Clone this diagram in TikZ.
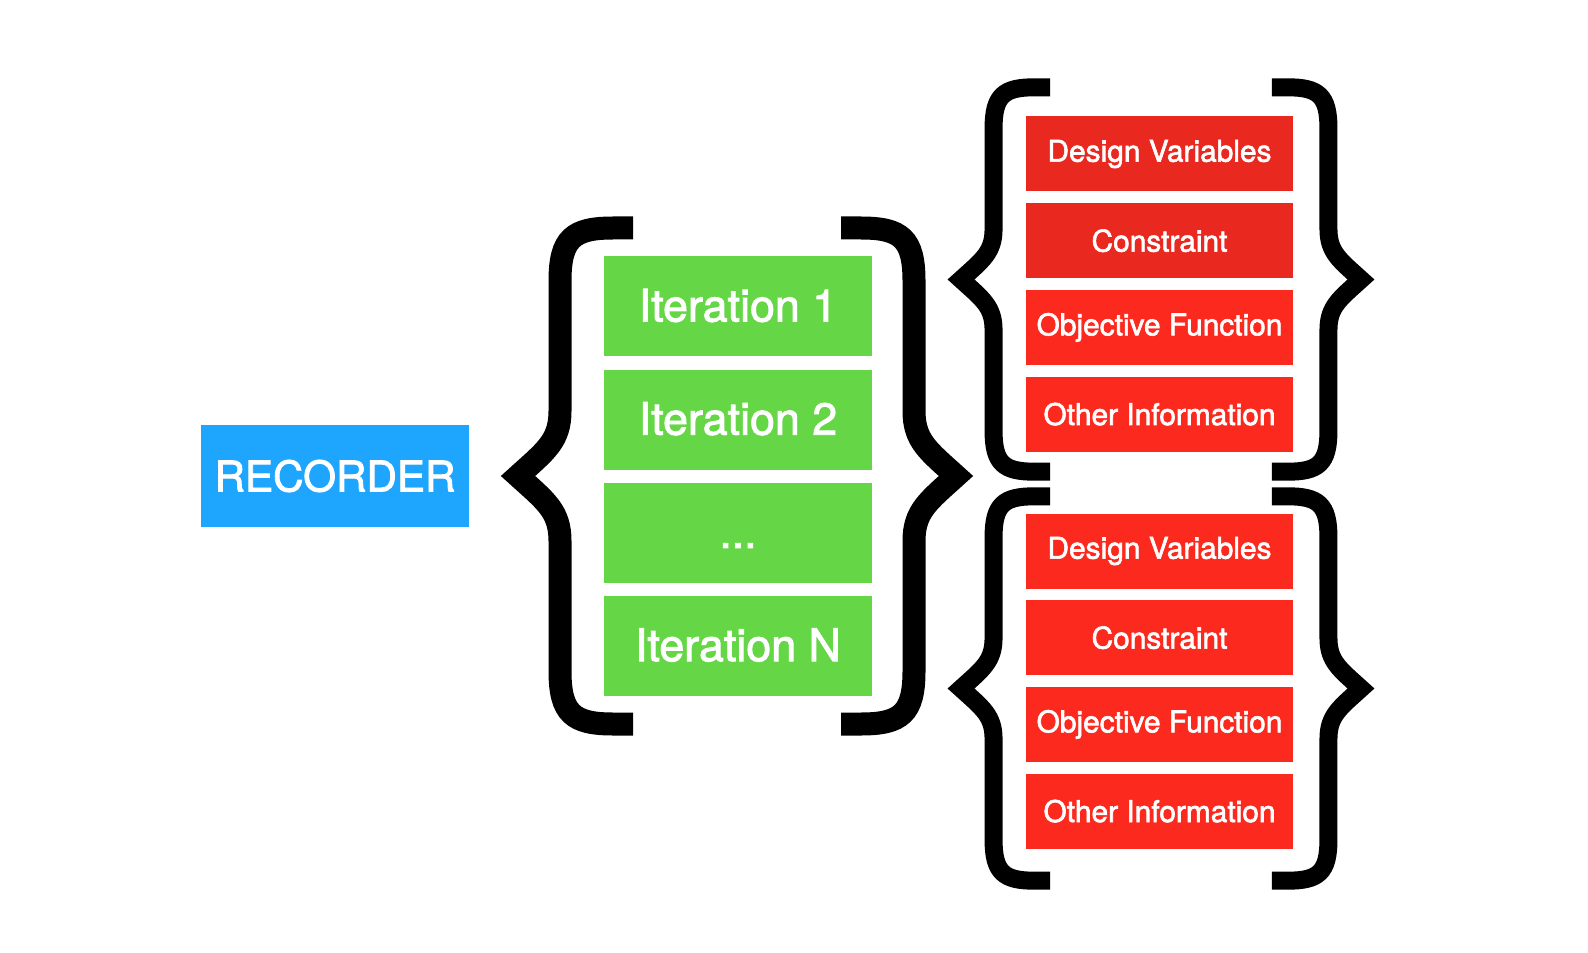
\documentclass[tikz,border=0pt]{standalone}
\usepackage{fontspec}
\setmainfont{TeX Gyre Heros}[FakeBold=2]
\usetikzlibrary{positioning}
\definecolor{recblue}{RGB}{30,166,255}
\definecolor{itergreen}{RGB}{101,215,70}
\definecolor{infored}{RGB}{252,42,30}
\definecolor{infodark}{RGB}{233,40,32}

\begin{document}
\begin{tikzpicture}[
  every node/.style={text=white, inner sep=0pt},
  recbox/.style={
    fill=recblue, minimum width=5.37cm, minimum height=2.04cm,
    font=\fontsize{24}{28}\selectfont
  },
  iterbox/.style={
    fill=itergreen, minimum width=5.36cm, minimum height=2.0cm,
    text height=0.6cm, text depth=0pt,
    font=\fontsize{25.5}{30}\selectfont
  },
  infobox/.style={
    fill=infored, minimum width=5.34cm, minimum height=1.5cm,
    font=\fontsize{17}{20}\selectfont
  },
  bigbrace/.style={line width=0.46cm},
  smallbrace/.style={scale=0.775, line width=0.36cm},
  lbrace/.pic={
    \draw (2.3,4.96) -- (1.9,4.96) .. controls (1.1,4.96) and (0.84,4.75) .. (0.84,3.9)
      -- (0.84,1.3) .. controls (0.84,0.7) and (0.55,0.5) .. (0,0)
      .. controls (0.55,-0.5) and (0.84,-0.7) .. (0.84,-1.3)
      -- (0.84,-3.9) .. controls (0.84,-4.75) and (1.1,-4.96) .. (1.9,-4.96) -- (2.3,-4.96);
  }
]
\useasboundingbox (0,0) rectangle (31.76,19.04);

% Recorder
\node[recbox] (rec) at (6.70, 9.52) {RECORDER};

% Iterations
\node[iterbox] (it1) at (14.76, 12.91) {Iteration 1};
\node[iterbox, below=0.25cm of it1] (it2) {Iteration 2};
\node[iterbox, below=0.25cm of it2] (itdots) {...};
\node[iterbox, below=0.25cm of itdots] (itN) {Iteration N};

% Record contents, first iteration
\node[infobox, fill=infodark] (dvA) at (23.19, 15.96) {Design Variables};
\node[infobox, fill=infodark, below=0.22cm of dvA] (conA) {Constraint};
\node[infobox, below=0.22cm of conA] (objA) {Objective Function};
\node[infobox, below=0.22cm of objA] (othA) {Other Information};

% Record contents, last iteration
\node[infobox] (dvB) at (23.19, 8.02) {Design Variables};
\node[infobox, below=0.22cm of dvB] (conB) {Constraint};
\node[infobox, below=0.22cm of conB] (objB) {Objective Function};
\node[infobox, below=0.22cm of objB] (othB) {Other Information};

% Braces round the iterations
\pic[bigbrace] at (10.36, 9.52) {lbrace};
\pic[bigbrace, xscale=-1] at (19.12, 9.52) {lbrace};

% Braces round the record contents
\pic[smallbrace] at (19.22, 13.45) {lbrace};
\pic[smallbrace, xscale=-1] at (27.22, 13.45) {lbrace};
\pic[smallbrace] at (19.22, 5.27) {lbrace};
\pic[smallbrace, xscale=-1] at (27.22, 5.27) {lbrace};
\end{tikzpicture}
\end{document}
